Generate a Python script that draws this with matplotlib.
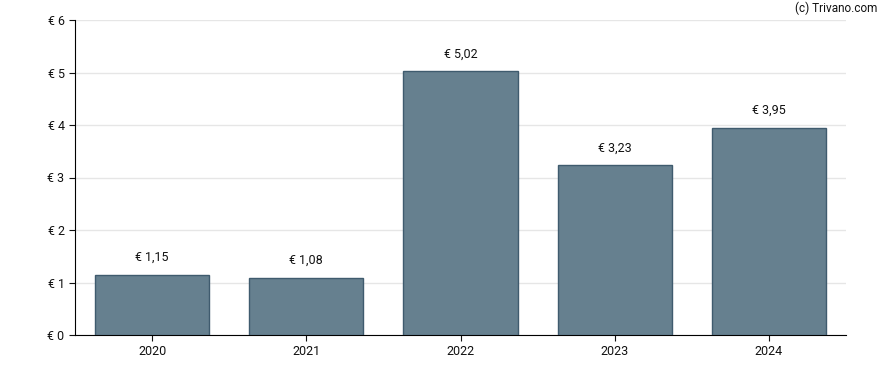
import matplotlib
matplotlib.use("Agg")
import matplotlib.pyplot as plt

years = ["2020", "2021", "2022", "2023", "2024"]
values = [1.15, 1.08, 5.02, 3.23, 3.95]
labels = ["€ 1,15", "€ 1,08", "€ 5,02", "€ 3,23", "€ 3,95"]
yticks = [0, 1, 2, 3, 4, 5, 6]

plt.rcParams['font.family'] = ['Roboto', 'DejaVu Sans']

fig = plt.figure(figsize=(8.88, 3.7), dpi=100)
ax = fig.add_axes([75/888, 35/370, 771/888, 315/370])

x = list(range(len(years)))
ax.bar(x, values, width=0.74, color="#66808f", edgecolor="#3f5b6e", linewidth=1, zorder=3)

for xi, v, lab in zip(x, values, labels):
    ax.annotate(lab, (xi, v), xytext=(0, 8), textcoords="offset points",
                ha="center", va="bottom", fontsize=9, color="#111111")

ax.set_xlim(-0.5, 4.5)
ax.set_ylim(0, 6)
ax.set_xticks(x)
ax.set_xticklabels(years)
ax.set_yticks(yticks)
ax.set_yticklabels(["€ %d" % t for t in yticks])
ax.tick_params(labelsize=9, length=4, colors="#111111")
ax.grid(axis="y", color="#e6e6e6", linewidth=1, zorder=0)
ax.spines["top"].set_visible(False)
ax.spines["right"].set_visible(False)
ax.spines["left"].set_color("black")
ax.spines["bottom"].set_color("black")

fig.text(877/888, 1 - 8/370, "(c) Trivano.com", ha="right", va="center", fontsize=8.5, color="#111111")

fig.savefig("out.png", dpi=100)
